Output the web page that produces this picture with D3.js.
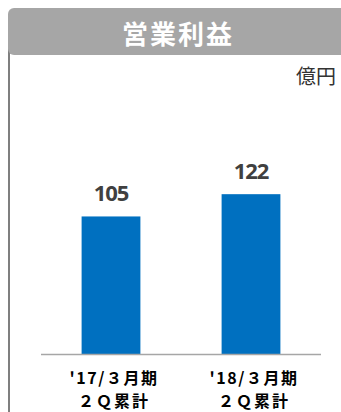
<!DOCTYPE html>
<html>
<head>
<meta charset="utf-8">
<script src="https://cdn.jsdelivr.net/npm/d3@7/dist/d3.min.js"></script>
<style>
    html, body { margin: 0; padding: 0; background: #fff; }
    svg { display: block; }
</style>
</head>
<body>
<div id="chart"></div>
<script>
    // data
    var title = "営業利益";
    var unit = "億円";
    var categories = ["'17/３月期", "'18/３月期"];
    var subLabels = ["２Ｑ累計", "２Ｑ累計"];
    var values = [105, 122];

    var width = 341, height = 412;
    var jp = "'Noto Sans CJK JP', 'Noto Sans', sans-serif";

    var svg = d3.select("#chart").append("svg")
        .attr("width", width)
        .attr("height", height);

    // left border of the panel
    svg.append("rect")
        .attr("x", 8).attr("y", 30)
        .attr("width", 2).attr("height", height - 30)
        .attr("fill", "#7f7f7f");

    // header
    svg.append("rect")
        .attr("x", 8).attr("y", 8)
        .attr("width", 350).attr("height", 47)
        .attr("rx", 6)
        .attr("fill", "#a6a6a6");

    svg.append("text")
        .attr("x", 178).attr("y", 44)
        .attr("text-anchor", "middle")
        .attr("fill", "#fff")
        .style("font-family", jp)
        .style("font-weight", "bold")
        .style("font-size", "26px")
        .style("letter-spacing", "2px")
        .text(title);

    svg.append("text")
        .attr("x", 336).attr("y", 84)
        .attr("text-anchor", "end")
        .attr("fill", "#333")
        .style("font-family", jp)
        .style("font-size", "20px")
        .text(unit);

    var x = d3.scaleBand()
        .domain(categories)
        .range([41, 321])
        .paddingInner(0.58)
        .paddingOuter(0.29);

    var y = d3.scaleLinear()
        .domain([0, 100])
        .range([354, 223]);

    svg.selectAll("rect.bar")
        .data(values)
        .enter().append("rect")
        .attr("class", "bar")
        .attr("x", function (d, i) { return x(categories[i]); })
        .attr("y", function (d) { return y(d); })
        .attr("width", x.bandwidth())
        .attr("height", function (d) { return y(0) - y(d); })
        .attr("fill", "#0070c0");

    svg.selectAll("text.val")
        .data(values)
        .enter().append("text")
        .attr("class", "val")
        .attr("x", function (d, i) { return x(categories[i]) + x.bandwidth() / 2; })
        .attr("y", function (d) { return y(d) - 15; })
        .attr("text-anchor", "middle")
        .attr("fill", "#404040")
        .style("font-family", "'Open Sans', sans-serif")
        .style("font-weight", "bold")
        .style("font-size", "22px")
        .style("letter-spacing", "-1px")
        .text(function (d) { return d; });

    // baseline
    svg.append("line")
        .attr("x1", 41).attr("x2", 321)
        .attr("y1", y(0) + 0.5).attr("y2", y(0) + 0.5)
        .attr("stroke", "#a6a6a6")
        .attr("stroke-width", 1.5);

    var cat = svg.selectAll("g.cat")
        .data(categories)
        .enter().append("g")
        .attr("class", "cat")
        .attr("transform", function (d) {
            return "translate(" + (x(d) + x.bandwidth() / 2 + 3) + ",0)";
        });

    cat.append("text")
        .attr("y", 384)
        .attr("text-anchor", "middle")
        .attr("fill", "#000")
        .style("font-family", jp)
        .style("font-weight", "bold")
        .style("font-size", "16px")
        .style("letter-spacing", "1.5px")
        .text(function (d) { return d; });

    cat.append("text")
        .attr("y", 407)
        .attr("text-anchor", "middle")
        .attr("fill", "#000")
        .style("font-family", jp)
        .style("font-weight", "bold")
        .style("font-size", "16px")
        .style("letter-spacing", "2px")
        .text(function (d, i) { return subLabels[i]; });
</script>
</body>
</html>
